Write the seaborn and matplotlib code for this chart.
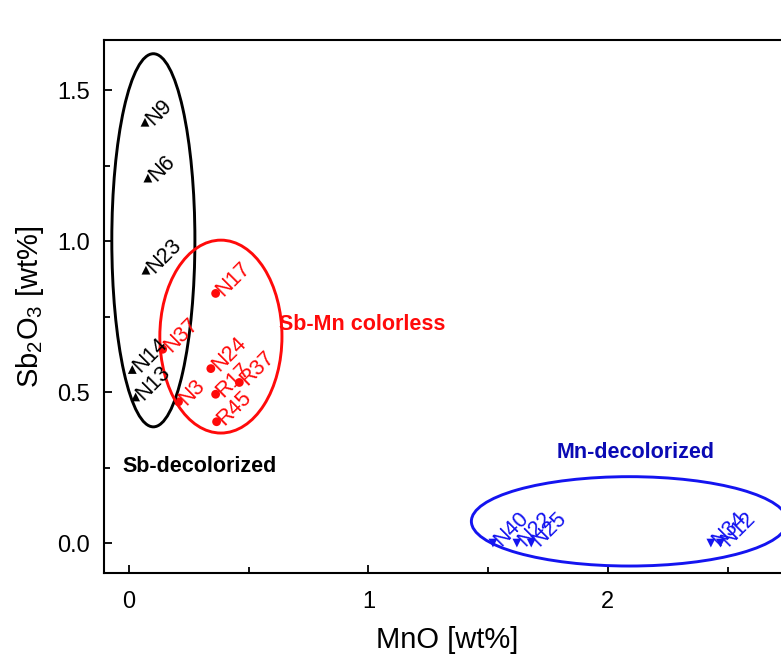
import pandas as pd
import matplotlib
matplotlib.use("Agg")
import matplotlib.pyplot as plt
from matplotlib.patches import Ellipse
from matplotlib.ticker import MultipleLocator
import seaborn as sns

# dados
sb_nomes = ["N9", "N6", "N23", "N14", "N13"]
sb_mno = [0.067, 0.079, 0.071, 0.014, 0.028]
sb_sb2o3 = [1.394, 1.209, 0.904, 0.575, 0.484]

sbmn_nomes = ["N17", "N37", "N24", "R17", "R37", "N3", "R45"]
sbmn_mno = [0.362, 0.141, 0.342, 0.362, 0.461, 0.207, 0.366]
sbmn_sb2o3 = [0.827, 0.642, 0.578, 0.493, 0.532, 0.468, 0.402]

mn_nomes = ["N40", "N22", "N25", "N34", "N12"]
mn_mno = [1.52, 1.62, 1.68, 2.43, 2.47]
mn_sb2o3 = [0.0, 0.0, 0.0, 0.0, 0.0]

grupos = ["Sb-decolorized", "Sb-Mn colorless", "Mn-decolorized"]

df = pd.concat([
    pd.DataFrame({"nome": sb_nomes, "MnO": sb_mno, "Sb2O3": sb_sb2o3, "grupo": grupos[0]}),
    pd.DataFrame({"nome": sbmn_nomes, "MnO": sbmn_mno, "Sb2O3": sbmn_sb2o3, "grupo": grupos[1]}),
    pd.DataFrame({"nome": mn_nomes, "MnO": mn_mno, "Sb2O3": mn_sb2o3, "grupo": grupos[2]}),
], ignore_index=True)

cores = {"Sb-decolorized": "black", "Sb-Mn colorless": "#ff0a0a", "Mn-decolorized": "#1414f0"}
marcadores = {"Sb-decolorized": "^", "Sb-Mn colorless": "o", "Mn-decolorized": "v"}

sns.set_style("ticks")
plt.rcParams["font.family"] = ["Liberation Sans", "DejaVu Sans"]
plt.rcParams["mathtext.default"] = "regular"
plt.rcParams["text.color"] = "black"
plt.rcParams["axes.labelcolor"] = "black"
plt.rcParams["xtick.color"] = "black"
plt.rcParams["ytick.color"] = "black"
plt.rcParams["axes.edgecolor"] = "black"

fig = plt.figure(figsize=(7.81, 6.57), dpi=100)
ax = fig.add_axes([0.1332, 0.1279, 0.88, 0.811])

sns.scatterplot(data=df, x="MnO", y="Sb2O3", hue="grupo", style="grupo",
                palette=cores, markers=marcadores, s=40, edgecolor="none",
                legend=False, ax=ax)

# rótulos das amostras
for _, r in df.iterrows():
    ax.annotate(r["nome"], (r["MnO"], r["Sb2O3"]), xytext=(3, 0),
                textcoords="offset points", rotation=45, rotation_mode="anchor",
                ha="left", va="center", fontsize=15.5, color=cores[r["grupo"]])

# elipses dos grupos
ax.add_patch(Ellipse((0.102, 1.003), 0.347, 1.236, fill=False, lw=2.1, color="black"))
ax.add_patch(Ellipse((0.384, 0.684), 0.51, 0.639, fill=False, lw=2.1, color="#ff0a0a"))
ax.add_patch(Ellipse((2.09, 0.072), 1.32, 0.296, fill=False, lw=2.1, color="#1414f0"))

ax.text(0.296, 0.255, "Sb-decolorized", ha="center", va="center",
        fontsize=15.5, fontweight="bold", color="black")
ax.text(0.626, 0.725, "Sb-Mn colorless", ha="left", va="center",
        fontsize=15.5, fontweight="bold", color="#ff0a0a")
ax.text(2.117, 0.301, "Mn-decolorized", ha="center", va="center",
        fontsize=15.5, fontweight="bold", color="#0a0ab4")

ax.set_xlim(-0.104, 2.766)
ax.set_ylim(-0.099, 1.666)
ax.xaxis.set_major_locator(MultipleLocator(1))
ax.xaxis.set_minor_locator(MultipleLocator(0.5))
ax.yaxis.set_major_locator(MultipleLocator(0.5))
ax.yaxis.set_minor_locator(MultipleLocator(0.25))
ax.tick_params(which="both", direction="in", width=1.3, labelsize=17)
ax.tick_params(axis="x", which="major", length=6, pad=13)
ax.tick_params(axis="y", which="major", length=6, pad=10)
ax.tick_params(which="minor", length=4)
for s in ax.spines.values():
    s.set_linewidth(1.5)

ax.set_xlabel("MnO [wt%]", fontsize=21, labelpad=9)
ax.set_ylabel("Sb$_2$O$_3$ [wt%]", fontsize=21, labelpad=8)

plt.savefig("out.png", dpi=100)
plt.close()
